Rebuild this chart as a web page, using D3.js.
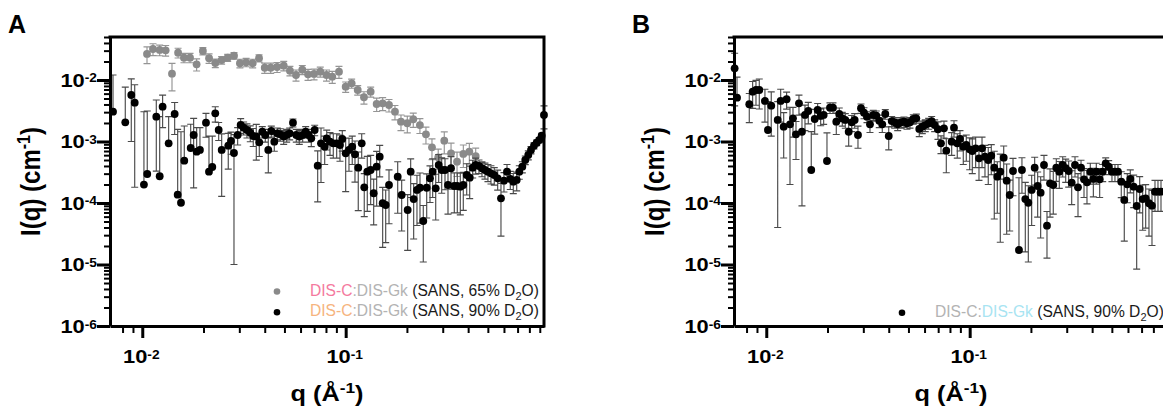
<!DOCTYPE html>
<html><head><meta charset="utf-8">
<script src="https://cdn.jsdelivr.net/npm/d3@7"></script>
<style>body{margin:0;background:#fff}svg{display:block}</style>
</head><body>
<svg id="c" width="1163" height="412"></svg>
<script>
// ---------------- DATA ----------------
const qA65 = [0.01055,0.01129,0.01218,0.01303,0.0140,0.0150,0.01603,0.01717,0.0185,0.01986,0.0213,0.02286,0.02455,0.0263,0.02825,0.0302,0.0324,0.0349,0.0375,0.0400,0.0428,0.0460,0.0496,0.0532,0.0570,0.0612,0.0653,0.0699,0.0750,0.0805,0.0859,0.0927,0.100,0.1070,0.1146,0.1230,0.1327,0.1420,0.1520,0.1633,0.1747,0.1870,0.2009,0.2149,0.2317,0.2481,0.2656,0.2851,0.3053,0.3296,0.3527,0.3788,0.4055,0.4357];
const iA65 = [0.0265,0.0319,0.0308,0.0304,0.01265,0.0278,0.0231,0.0231,0.0180,0.0296,0.0226,0.0189,0.0211,0.0231,0.0248,0.0187,0.0194,0.0187,0.0226,0.0158,0.0158,0.01626,0.0171,0.01416,0.01206,0.01469,0.01238,0.01253,0.01365,0.01206,0.01132,0.01365,0.00778,0.00884,0.00688,0.00524,0.00645,0.00407,0.00418,0.00392,0.00305,0.00210,0.00198,0.00230,0.00185,0.00131,0.000805,0.000553,0.00103,0.000643,0.00047,0.000627,0.000682,0.00058];
const eA65 = [0.008,0.007,0.006,0.006,0.006,0.005,0.004,0.004,0.004,0.004,0.004,0.003,0.003,0.003,0.003,0.003,0.003,0.003,0.003,0.003,0.003,0.003,0.003,0.0025,0.0025,0.0025,0.0025,0.0025,0.0025,0.0025,0.0025,0.003,0.0015,0.0015,0.0012,0.0012,0.0012,0.001,0.001,0.0009,0.0008,0.0006,0.0006,0.0006,0.0005,0.0004,0.0003,0.0002,0.0004,0.0003,0.0002,0.00025,0.00025,0.0002];

const qA90 = [0.00718,0.00825,0.00883,0.00918,0.01019,0.01058,0.01172,0.01218,0.01259,0.01348,0.01443,0.01493,0.0155,0.01609,0.0173,0.01789,0.01851,0.01921,0.02057,0.02128,0.02209,0.02285,0.02375,0.02457,0.02647,0.0273,0.02824,0.02944,0.03046,0.0315,0.03271,0.03396,0.03513,0.03635,0.03761,0.0389,0.04025,0.04164,0.04308,0.04457,0.04611,0.0477,0.04957,0.05128,0.05305,0.05507,0.05716,0.05914,0.06146,0.06359,0.06578,0.06775,0.07041,0.07284,0.07562,0.07886,
0.08067,0.08373,0.0869,0.09032,0.09376,0.09623,0.1,0.1038,0.1077,0.1111,0.1153,0.1199,0.1234,0.1277,0.1327,0.1373,0.142,0.147,0.152,0.1573,0.1633,0.1802,0.1885,0.2017,0.2087,0.2159,0.2241,0.2319,0.2407,0.2502,0.2597,0.2677,0.2771,0.2866,0.2965,0.3078,0.3184,0.3294,0.342,0.3538,0.366,0.3786,0.3935,0.4071,0.4211,0.4356,0.4522,0.4678,0.4839,0.5006,0.5179,0.5377,0.5588,0.58,0.6,0.6209,0.6445,0.6668,0.6931,0.7138,0.7385,0.7638,0.7902,0.8147,0.8428,0.869,0.895,0.9196,0.9438];
const iA90 = [0.00305,0.00205,0.0057,0.00428,0.000199,0.000296,0.00253,0.000272,0.00368,0.000935,0.0028,0.0001365,0.000101,0.000488,0.000784,0.001276,0.000682,0.000728,0.00202,0.000323,0.000385,0.00287,0.001538,0.000728,0.000855,0.00102,0.00065,0.001276,0.001855,0.001676,0.001538,0.00139,0.001229,0.001197,0.00097,0.00144,0.001276,0.000728,0.00148,0.000993,0.00136,0.00131,0.0012,0.001276,0.00136,0.00202,0.001276,0.0012,0.001276,0.00144,0.001276,0.001127,0.001538,0.000404,0.000935,0.000823,
0.001127,0.000993,0.000935,0.000935,0.000877,0.001098,0.000643,0.000728,0.000823,0.000619,0.000375,0.000935,0.00018,0.000323,0.000344,0.000144,0.000389,0.000566,0.000099,0.0000927,0.000196,0.000268,0.000135,0.000077,0.000323,0.000116,0.000163,0.000177,0.000051,0.000177,0.000252,0.000323,0.000173,0.000415,0.000344,0.000344,0.000196,0.000367,0.000189,0.000189,0.000184,0.000196,0.000285,0.000258,0.000375,0.000415,0.0004,0.000367,0.000344,0.000323,0.000304,0.000285,0.000252,0.000119,0.000231,0.000323,0.000246,0.000222,0.000237,0.000323,0.000389,0.0005,0.000603,0.000728,0.000855,0.000956,0.001058,0.001243,0.0027];
const eA90 = [0.009,0.0056,0.0047,0.0041,0.00285,0.00284,0.0022,0.00226,0.002,0.0016,0.0015,0.00144,0.00134,0.0013,0.00112,0.0011,0.001,0.00095,0.00085,0.0009,0.00084,0.0008,0.0005,0.0006,0.0005,0.0004,0.00064,0.0004,0.0005,0.0004,0.0004,0.0004,0.0004,0.0007,0.0004,0.0003,0.0003,0.00042,0.0003,0.0003,0.0003,0.0003,0.0003,0.0003,0.0003,0.0003,0.0003,0.0003,0.0003,0.0003,0.0003,0.0003,0.0003,0.0003,0.00072,0.0004,
0.0004,0.0004,0.0004,0.0004,0.0004,0.0004,0.00049,0.0004,0.0004,0.0004,0.0003,0.0004,0.00012,0.00025,0.00025,0.0001,0.0003,0.0003,0.00008,0.00007,0.00015,0.0002,0.0001,0.00006,0.0002,0.00009,0.00012,0.00013,0.00004,0.00012,0.00015,0.0002,0.00012,0.0002,0.0002,0.00018,0.00013,0.0002,0.00012,0.00012,0.00012,0.00012,0.00015,0.00014,0.00012,0.00012,0.0001,0.0001,0.0001,0.0001,0.0001,0.00009,0.00009,0.00009,0.00008,0.0001,0.00008,0.00008,0.00008,0.00008,0.00008,0.00008,0.0001,0.0001,0.0001,0.0001,0.0001,0.00012,0.0011];

const qB90 = [0.00699,0.00718,0.00825,0.00857,0.0089,0.00924,0.00985,0.01019,0.01058,0.01138,0.01177,0.01218,0.01259,0.01308,0.01353,0.014,0.01448,0.01498,0.0155,0.01609,0.01664,0.0173,0.01789,0.01851,0.01915,0.01988,0.02057,0.02128,0.02209,0.02285,0.02364,0.02446,0.02542,0.0263,0.0272,0.02824,0.02922,0.03022,0.03127,0.03235,0.03358,0.03474,0.03594,0.03718,0.03847,0.04,0.04136,0.0428,0.04427,0.046,0.04753,0.04918,0.05088,0.0528,0.05465,0.05651,0.05848,0.06049,0.06286,0.06504,0.06728,0.06984,0.07226,0.07475,0.07674,0.08156,0.08373,0.0869,0.08959,0.09301,0.09623,0.1,0.103,0.107,0.1111,0.115,0.1189,0.1234,0.1277,0.1321,0.1367,0.1414,0.147,0.152,0.1573,0.1633,0.1747,0.1807,0.1877,0.1942,0.2017,0.2087,0.2159,0.2233,0.2319,0.2399,0.2483,0.2576,0.2666,0.2758,0.2866,0.2965,0.3067,0.3173,0.3294,0.3408,0.3527,0.3648,0.3773,0.3917,0.4055,0.4193,0.4356,0.4507,0.4663,0.4824,0.5006,0.5179,0.5359,0.5562,0.5755,0.5953,0.616,0.6402,0.6622,0.6851,0.7088,0.7333,0.7612,0.7875,0.8147,0.8428,0.872];
const iB90 = [0.01549,0.00515,0.00403,0.00645,0.00688,0.00688,0.00456,0.001538,0.00382,0.00224,0.00456,0.00174,0.00486,0.0019,0.00238,0.00131,0.00418,0.00144,0.0027,0.00313,0.000344,0.00232,0.00325,0.0026,0.0027,0.000482,0.00355,0.00355,0.0021,0.0028,0.00238,0.00224,0.00144,0.00205,0.00224,0.001276,0.00347,0.00294,0.00253,0.0019,0.0027,0.00263,0.00218,0.0019,0.0028,0.001229,0.00215,0.00205,0.0019,0.00205,0.0021,0.00198,0.00205,0.00232,0.00238,0.0016,0.00174,0.00185,0.00198,0.00215,0.00185,0.00158,0.000935,0.00164,0.00071,0.000993,0.001676,0.000935,0.0011,0.000823,0.000877,0.000747,0.0007,0.000775,0.000533,0.000775,0.000566,0.0005,0.000588,0.000375,0.000268,0.000323,0.000545,0.000231,0.000135,0.000331,0.0000172,0.000344,0.000116,0.000101,0.000163,0.000375,0.000189,0.000147,0.000415,0.0000427,0.000209,0.000196,0.000375,0.000323,0.000415,0.000367,0.000331,0.000214,0.000415,0.00018,0.000375,0.000243,0.000217,0.000323,0.000246,0.000323,0.000243,0.000323,0.000442,0.000389,0.000323,0.000323,0.000323,0.000222,0.000112,0.000201,0.000246,0.000184,0.0000894,0.000169,0.000116,0.000119,0.000099,0.0000904,0.000153,0.000153,0.000153];
const eB90 = [0.0117,0.006,0.002,0.003,0.003,0.0035,0.0025,0.0029,0.0026,0.0022,
0.0025,0.0012,0.0015,0.0017,0.0012,0.0008,0.0015,0.00135,0.0012,0.0012,
0.0011,0.001,0.0009,0.0008,0.0008,0.0009,0.0007,0.0007,0.0008,0.0007,
0.0006,0.0006,0.0006,0.0006,0.0006,0.0005,0.0006,0.0006,0.0005,0.0005,
0.0005,0.0005,0.0005,0.0005,0.0005,0.0005,0.0004,0.0004,0.0004,0.0004,
0.0004,0.0004,0.0004,0.0004,0.0004,0.0004,0.0004,0.0004,0.0004,0.0004,
0.0004,0.0005,0.0003,0.0005,0.0004,0.0004,0.0005,0.0004,0.0004,0.0004,
0.0004,0.0004,0.0004,0.0004,0.0003,0.0004,0.0003,0.0003,0.0003,0.00032,
0.0002,0.0003,0.0003,0.0002,0.0001,0.0002,0.00024,0.0002,0.0001,0.00009,
0.00012,0.00018,0.00013,0.00012,0.00018,0.00003,0.00015,0.00013,0.00015,0.00015,
0.00015,0.00015,0.00015,0.00012,0.00015,0.00012,0.00012,0.00012,0.00012,0.00012,
0.00012,0.00012,0.00012,0.0001,0.0001,0.0001,0.0001,0.0001,0.0001,0.0001,
0.000088,0.0001,0.0001,0.0001,0.000081,0.0001,0.00008,0.00008,0.00007,0.00007,0.00008,0.00008,0.00008];

const yTickExponents = [-6,-5,-4,-3,-2];
const xTickExponents = [-2,-1];
const qDomain = [0.00694, 0.944];
const iDomain = [1e-6, 0.05];

// ---------------- LAYOUT ----------------
const svg = d3.select("#c");
const FONT = "'Liberation Sans', Arial, Helvetica, sans-serif";
const TOP = 37, BOTTOM = 326, W = 434, SX = 1.15;

function stretchedText(g, x, y, anchor, size, parts, rotate) {
  const t = g.append("text")
    .attr("transform", `translate(${x},${y}) scale(${SX},1)` + (rotate ? " rotate(-90)" : ""))
    .attr("text-anchor", anchor).attr("font-family", FONT)
    .attr("font-weight", "bold").attr("font-size", size).attr("fill", "#000");
  parts.forEach(p => {
    const s = t.append("tspan").text(p.t);
    if (p.sup) s.attr("font-size", p.sup).attr("dy", p.dy);
    if (p.back) s.attr("dy", p.back);
  });
  return t;
}

function drawPanel(left, letter, seriesList, legend) {
  const g = svg.append("g");
  const x = d3.scaleLog().domain(qDomain).range([left, left + W]);
  const y = d3.scaleLog().domain(iDomain).range([BOTTOM, TOP]);

  // data
  seriesList.forEach(s => {
    const data = s.q.map((q, i) => ({q, I: s.I[i], e: s.e[i]}));
    const eb = g.append("g").attr("stroke", s.bar).attr("stroke-width", 1.15).attr("fill", "none");
    const segs = [];
    data.forEach(d => {
      const cx = x(d.q), cy = y(d.I);
      const yh = y(d.I + d.e);
      segs.push(`M${cx},${cy}V${yh}M${cx-3.5},${yh}H${cx+3.5}`);
      const lo = d.I - d.e;
      if (lo > 0) {
        if (lo >= iDomain[0]) {
          const yl = y(lo);
          segs.push(`M${cx},${cy}V${yl}M${cx-3.5},${yl}H${cx+3.5}`);
        } else {
          segs.push(`M${cx},${cy}V${BOTTOM}`);
        }
      }
    });
    eb.append("path").attr("d", segs.join(""));
    g.append("g").selectAll("circle").data(data).join("circle")
      .attr("cx", d => x(d.q)).attr("cy", d => y(d.I)).attr("r", 3.9).attr("fill", s.color);
  });

  // y axis
  const yTicks = [];
  yTickExponents.forEach(e => { for (let k = 1; k <= 9; k++) { const v = k * Math.pow(10, e); if (v <= iDomain[1] * 1.0001) yTicks.push(v); } });
  const yMajor = v => Math.abs(Math.log10(v) - Math.round(Math.log10(v))) < 1e-6;
  const ya = g.append("g").attr("transform", `translate(${left},0)`)
    .call(d3.axisLeft(y).tickValues(yTicks).tickFormat("").tickSizeOuter(0).tickSizeInner(6));
  ya.select(".domain").attr("stroke-width", 3).attr("stroke", "#000");
  ya.selectAll(".tick line").attr("stroke", "#000")
    .attr("x2", d => yMajor(d) ? -13 : -6).attr("stroke-width", d => yMajor(d) ? 3 : 2);
  yTickExponents.forEach(e => {
    stretchedText(g, left - 13, y(Math.pow(10, e)) + 7, "end", 19,
      [{t: "10"}, {t: String(e), sup: 12, dy: -4.5}]);
  });

  // x axis
  const xTicks = [];
  [-3, -2, -1].forEach(e => { for (let k = 1; k <= 9; k++) { const v = k * Math.pow(10, e); if (v >= 0.0075 && v <= qDomain[1]) xTicks.push(v); } });
  const xMajor = v => Math.abs(Math.log10(v) - Math.round(Math.log10(v))) < 1e-6;
  const xa = g.append("g").attr("transform", `translate(0,${BOTTOM})`)
    .call(d3.axisBottom(x).tickValues(xTicks).tickFormat("").tickSizeOuter(0).tickSizeInner(7));
  xa.select(".domain").attr("stroke-width", 3).attr("stroke", "#000");
  xa.selectAll(".tick line").attr("stroke", "#000")
    .attr("y2", d => xMajor(d) ? 12 : 7).attr("stroke-width", d => xMajor(d) ? 3 : 2);
  xTickExponents.forEach(e => {
    stretchedText(g, x(Math.pow(10, e)) - 1, 363, "middle", 19,
      [{t: "10"}, {t: String(e), sup: 12, dy: -4.5}]);
  });

  // frame top + right
  g.append("path").attr("d", `M${left-1.5},${TOP}H${left+W}V${BOTTOM+1.5}`)
    .attr("fill", "none").attr("stroke", "#000").attr("stroke-width", 3);

  // titles
  stretchedText(g, left - 70, (TOP + BOTTOM) / 2, "middle", 24,
    [{t: "I(q) (cm"}, {t: "-1", sup: 16, dy: -9}, {t: ")", back: 9}], true);
  stretchedText(g, left + W / 2, 401, "middle", 22,
    [{t: "q (Å"}, {t: "-1", sup: 15, dy: -8}, {t: ")", back: 8}]);

  g.append("text").attr("x", left - 102).attr("y", 33).attr("font-family", FONT)
    .attr("font-weight", "bold").attr("font-size", 25).text(letter);

  // legend
  legend.forEach(L => {
    g.append("circle").attr("cx", L.mx).attr("cy", L.my).attr("r", 3.3).attr("fill", L.color);
    const t = g.append("text").attr("x", L.tx).attr("y", L.ty).attr("font-family", FONT)
      .attr("font-size", 15.6);
    L.parts.forEach(p => {
      const s = t.append("tspan").text(p.t).attr("fill", p.c);
      if (p.sub) s.attr("font-size", 11).attr("dy", 4);
      if (p.back) s.attr("dy", -4);
    });
  });
}

const PINK = "#f47a9e", ORANGE = "#f6b47e", LGRAY = "#b3b3b3", CYAN = "#a8e4f2", DARK = "#1a1a1a";

drawPanel(110, "A", [
  {q: qA65, I: iA65, e: eA65, color: "#8a8a8a", bar: "#959595"},
  {q: qA90, I: iA90, e: eA90, color: "#000", bar: "#4a4a4a"}
], [
  {mx: 277, my: 291.5, color: "#8a8a8a", tx: 310, ty: 295.5, parts: [
    {t: "DIS-C", c: PINK}, {t: ":DIS-Gk", c: LGRAY}, {t: " (SANS, 65% D", c: DARK}, {t: "2", c: DARK, sub: true}, {t: "O)", c: DARK, back: true}]},
  {mx: 277, my: 312.3, color: "#000", tx: 310, ty: 316, parts: [
    {t: "DIS-C", c: ORANGE}, {t: ":DIS-Gk", c: LGRAY}, {t: " (SANS, 90% D", c: DARK}, {t: "2", c: DARK, sub: true}, {t: "O)", c: DARK, back: true}]}
]);

drawPanel(734, "B", [
  {q: qB90, I: iB90, e: eB90, color: "#000", bar: "#4a4a4a"}
], [
  {mx: 902, my: 312.7, color: "#000", tx: 935, ty: 316.5, parts: [
    {t: "DIS-C:", c: LGRAY}, {t: "DIS-Gk", c: CYAN}, {t: " (SANS, 90% D", c: DARK}, {t: "2", c: DARK, sub: true}, {t: "O)", c: DARK, back: true}]}
]);
</script>
</body></html>
